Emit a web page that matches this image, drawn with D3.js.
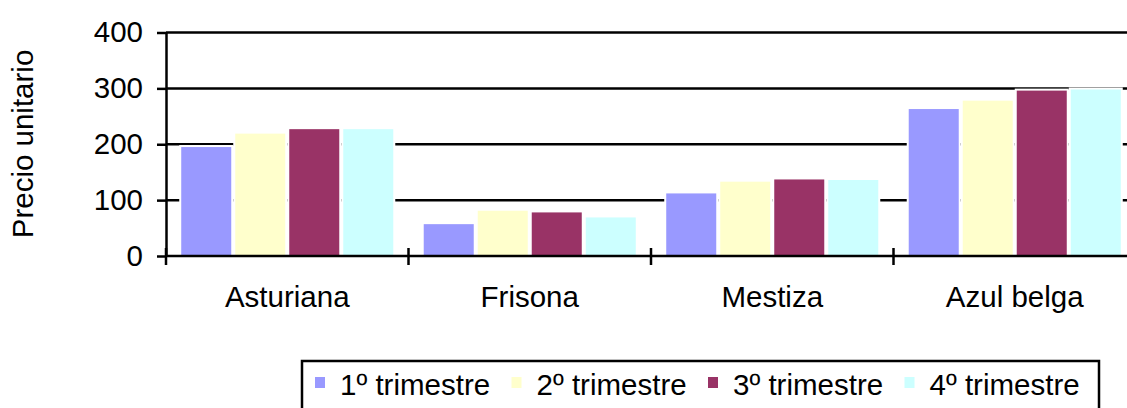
<!DOCTYPE html>
<html>
<head>
<meta charset="utf-8">
<script src="https://cdn.jsdelivr.net/npm/d3@7"></script>
<style>
  body { margin: 0; background: #fff; }
  text { font-family: "Liberation Sans", Arial, sans-serif; fill: #000; }
</style>
</head>
<body>
<script>
var categories = ["Asturiana", "Frisona", "Mestiza", "Azul belga"];
var series = ["1º trimestre", "2º trimestre", "3º trimestre", "4º trimestre"];
var q1 = [195, 57, 112, 263];
var q2 = [219, 81, 133, 278];
var q3 = [227, 78, 137, 296];
var q4 = [227, 69, 136, 298];
var y_ticks = [0, 100, 200, 300, 400];

var colors = ["#9999ff", "#ffffcc", "#993366", "#ccffff"];
var values = [q1, q2, q3, q4];

var width = 1127, height = 408;
var plot_left = 166, plot_right = 1136, plot_top = 32.5, plot_bottom = 256;
var font_size = "29.5px";

var svg = d3.select("body").append("svg")
    .attr("width", width)
    .attr("height", height);

var x_scale = d3.scaleBand()
    .domain(categories)
    .range([plot_left, plot_right]);

var x_inner = d3.scaleBand()
    .domain(series)
    .range([0, x_scale.bandwidth()])
    .paddingInner(0.074)
    .paddingOuter(0.282);

var y_scale = d3.scaleLinear()
    .domain([0, 400])
    .range([plot_bottom, plot_top]);

// gridlines
svg.append("g")
  .selectAll("line")
  .data(y_ticks.slice(1))
  .enter().append("line")
  .attr("x1", plot_left)
  .attr("x2", width)
  .attr("y1", d => y_scale(d))
  .attr("y2", d => y_scale(d))
  .attr("stroke", "#000")
  .attr("stroke-width", 2.5);

// bars
var rows = [];
categories.forEach(function(c, i) {
  series.forEach(function(s, j) {
    rows.push({cat: c, ser: s, j: j, v: values[j][i]});
  });
});

svg.append("g")
  .selectAll("rect")
  .data(rows)
  .enter().append("rect")
  .attr("x", d => x_scale(d.cat) + x_inner(d.ser))
  .attr("y", d => y_scale(d.v))
  .attr("width", x_inner.bandwidth())
  .attr("height", d => plot_bottom - y_scale(d.v))
  .attr("fill", d => colors[d.j])
  .attr("stroke", "#fff")
  .attr("stroke-width", 4)
  .style("paint-order", "stroke");

// y axis
var y_axis = svg.append("g")
  .attr("transform", "translate(" + plot_left + ",0)")
  .call(d3.axisLeft(y_scale).tickValues(y_ticks).tickSize(9).tickPadding(14).tickSizeOuter(0));
y_axis.select(".domain").attr("stroke-width", 2.5).attr("stroke", "#000");
y_axis.selectAll(".tick line").attr("stroke-width", 2.5).attr("stroke", "#000");
y_axis.selectAll(".tick text")
  .style("font-size", font_size)
  .style("font-family", "'Liberation Sans', Arial, sans-serif");

// x axis line and cross ticks
svg.append("line")
  .attr("x1", plot_left)
  .attr("x2", width)
  .attr("y1", plot_bottom)
  .attr("y2", plot_bottom)
  .attr("stroke", "#000")
  .attr("stroke-width", 2.5);

var bounds = categories.map(c => x_scale(c));
bounds.push(plot_right);
svg.append("g")
  .selectAll("line")
  .data(bounds)
  .enter().append("line")
  .attr("x1", d => d)
  .attr("x2", d => d)
  .attr("y1", plot_bottom - 8)
  .attr("y2", plot_bottom + 9)
  .attr("stroke", "#000")
  .attr("stroke-width", 2.5);

svg.append("g")
  .selectAll("text")
  .data(categories)
  .enter().append("text")
  .attr("x", d => x_scale(d) + x_scale.bandwidth() / 2)
  .attr("y", 307)
  .attr("text-anchor", "middle")
  .style("font-size", font_size)
  .text(d => d);

// y axis title
svg.append("text")
  .attr("transform", "translate(33,144) rotate(-90)")
  .attr("text-anchor", "middle")
  .style("font-size", font_size)
  .text("Precio unitario");

// legend
var legend = svg.append("g");
legend.append("rect")
  .attr("x", 302)
  .attr("y", 361)
  .attr("width", 797)
  .attr("height", 70)
  .attr("fill", "#fff")
  .attr("stroke", "#000")
  .attr("stroke-width", 2.5);

var items = legend.selectAll(".item")
  .data(series)
  .enter().append("g")
  .attr("class", "item")
  .attr("transform", (d, i) => "translate(" + (315 + i * 196.5) + ",0)");
items.append("rect")
  .attr("x", 0)
  .attr("y", 377)
  .attr("width", 10)
  .attr("height", 11)
  .attr("fill", (d, i) => colors[i]);
items.append("text")
  .attr("x", 25)
  .attr("y", 395)
  .style("font-size", font_size)
  .text(d => d);
</script>
</body>
</html>
